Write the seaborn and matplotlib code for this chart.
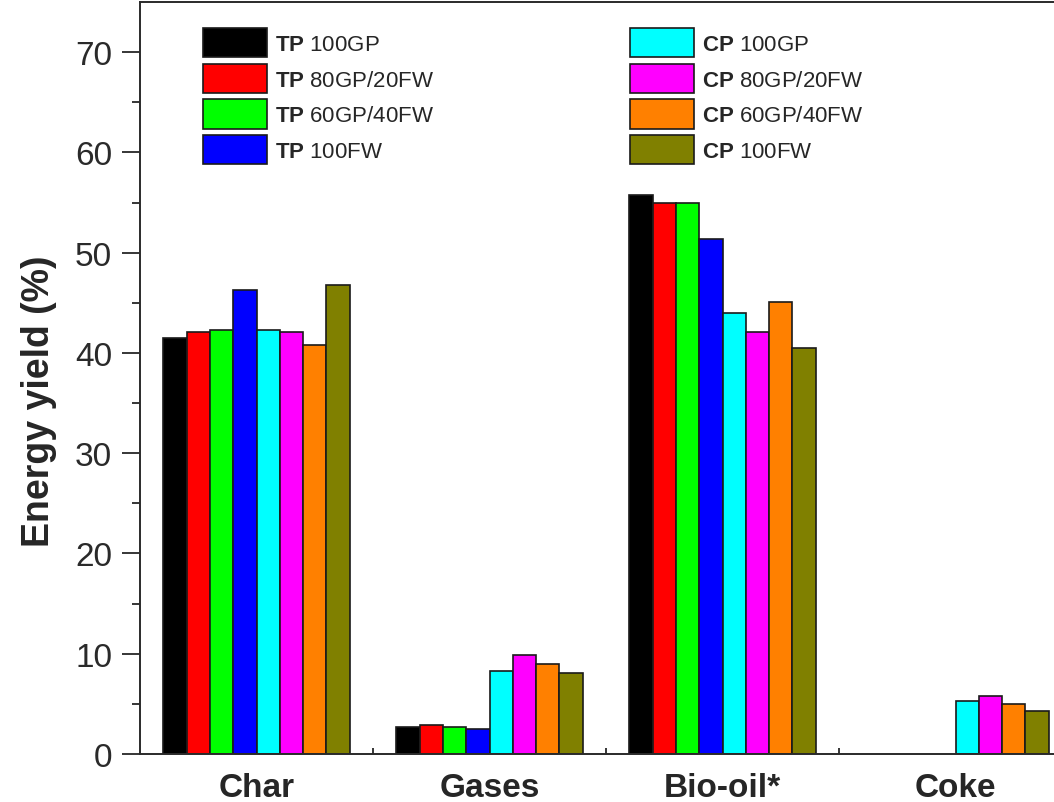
import numpy as np
import pandas as pd
import matplotlib
matplotlib.use("Agg")
import matplotlib.pyplot as plt
import seaborn as sns

# product fractions on the x axis
categories = ["Char", "Gases", "Bio-oil*", "Coke"]

# series (process + feed blend)
series = ["TP 100GP", "TP 80GP/20FW", "TP 60GP/40FW", "TP 100FW",
          "CP 100GP", "CP 80GP/20FW", "CP 60GP/40FW", "CP 100FW"]

colors = ["#000000", "#ff0000", "#00ff00", "#0000ff",
          "#00ffff", "#ff00ff", "#ff8000", "#808000"]

# energy yield (%), one list per series (Char, Gases, Bio-oil*, Coke)
tp_100gp = [41.5, 2.7, 55.8, np.nan]
tp_80gp_20fw = [42.1, 2.9, 55.0, np.nan]
tp_60gp_40fw = [42.3, 2.7, 55.0, np.nan]
tp_100fw = [46.3, 2.5, 51.4, np.nan]
cp_100gp = [42.3, 8.3, 44.0, 5.3]
cp_80gp_20fw = [42.1, 9.9, 42.1, 5.8]
cp_60gp_40fw = [40.8, 9.0, 45.1, 5.0]
cp_100fw = [46.8, 8.1, 40.5, 4.3]

values = [tp_100gp, tp_80gp_20fw, tp_60gp_40fw, tp_100fw,
          cp_100gp, cp_80gp_20fw, cp_60gp_40fw, cp_100fw]

rows = []
for name, vals in zip(series, values):
    for cat, v in zip(categories, vals):
        rows.append({"fraction": cat, "series": name, "yield": v})
df = pd.DataFrame(rows)

sns.set_style("ticks")
plt.rcParams["font.family"] = ["Liberation Sans", "DejaVu Sans"]
plt.rcParams["mathtext.fontset"] = "custom"
plt.rcParams["mathtext.rm"] = "Liberation Sans"
plt.rcParams["mathtext.bf"] = "Liberation Sans:bold"

fig = plt.figure(figsize=(10.54, 8.03), dpi=100)
ax = fig.add_axes([140 / 1054, 48 / 803, 932 / 1054, 752 / 803])

sns.barplot(data=df, x="fraction", y="yield", hue="series", order=categories,
            hue_order=series, palette=colors, width=0.8, edgecolor="#1a1a1a",
            linewidth=1.2, saturation=1, ax=ax)

ax.set_xlim(-0.5, 3.5)
ax.set_ylim(0, 75)
ax.set_yticks(np.arange(0, 71, 10))
ax.set_yticks(np.arange(5, 75, 10), minor=True)
ax.set_xticks([0.5, 1.5, 2.5], minor=True)

ax.tick_params(axis="y", which="major", direction="out", length=13, width=1.3,
               labelsize=24, labelcolor="#2a2a2a", pad=7)
ax.tick_params(axis="y", which="minor", direction="out", length=6, width=1.3)
ax.tick_params(axis="x", which="major", length=0, labelsize=24, pad=13)
ax.tick_params(axis="x", which="minor", direction="in", length=4.5, width=1.3)
for lbl in ax.get_xticklabels():
    lbl.set_fontweight("bold")

for side in ["left", "bottom", "top", "right"]:
    ax.spines[side].set_linewidth(1.4)
    ax.spines[side].set_color("#2a2a2a")

ax.set_xlabel("")
ax.set_ylabel("Energy yield (%)", fontsize=27, fontweight="bold", labelpad=13)
ax.yaxis.label.set_y(0.47)

# legend: bold process code, plain blend
handles, _ = ax.get_legend_handles_labels()
labels = []
for s in series:
    code, blend = s.split(" ")
    labels.append(r"$\bf{" + code + "}$ " + blend)
ax.get_legend().remove()
ax.legend(handles, labels, ncol=2, loc="upper left",
          bbox_to_anchor=((203 - 140) / 932, (755 - 29) / 752),
          frameon=False, fontsize=16, borderpad=0, borderaxespad=0,
          handlelength=2.9, handleheight=1.65, handletextpad=0.36,
          labelspacing=0.29, columnspacing=8.8)

fig.savefig("out.png", dpi=100)
